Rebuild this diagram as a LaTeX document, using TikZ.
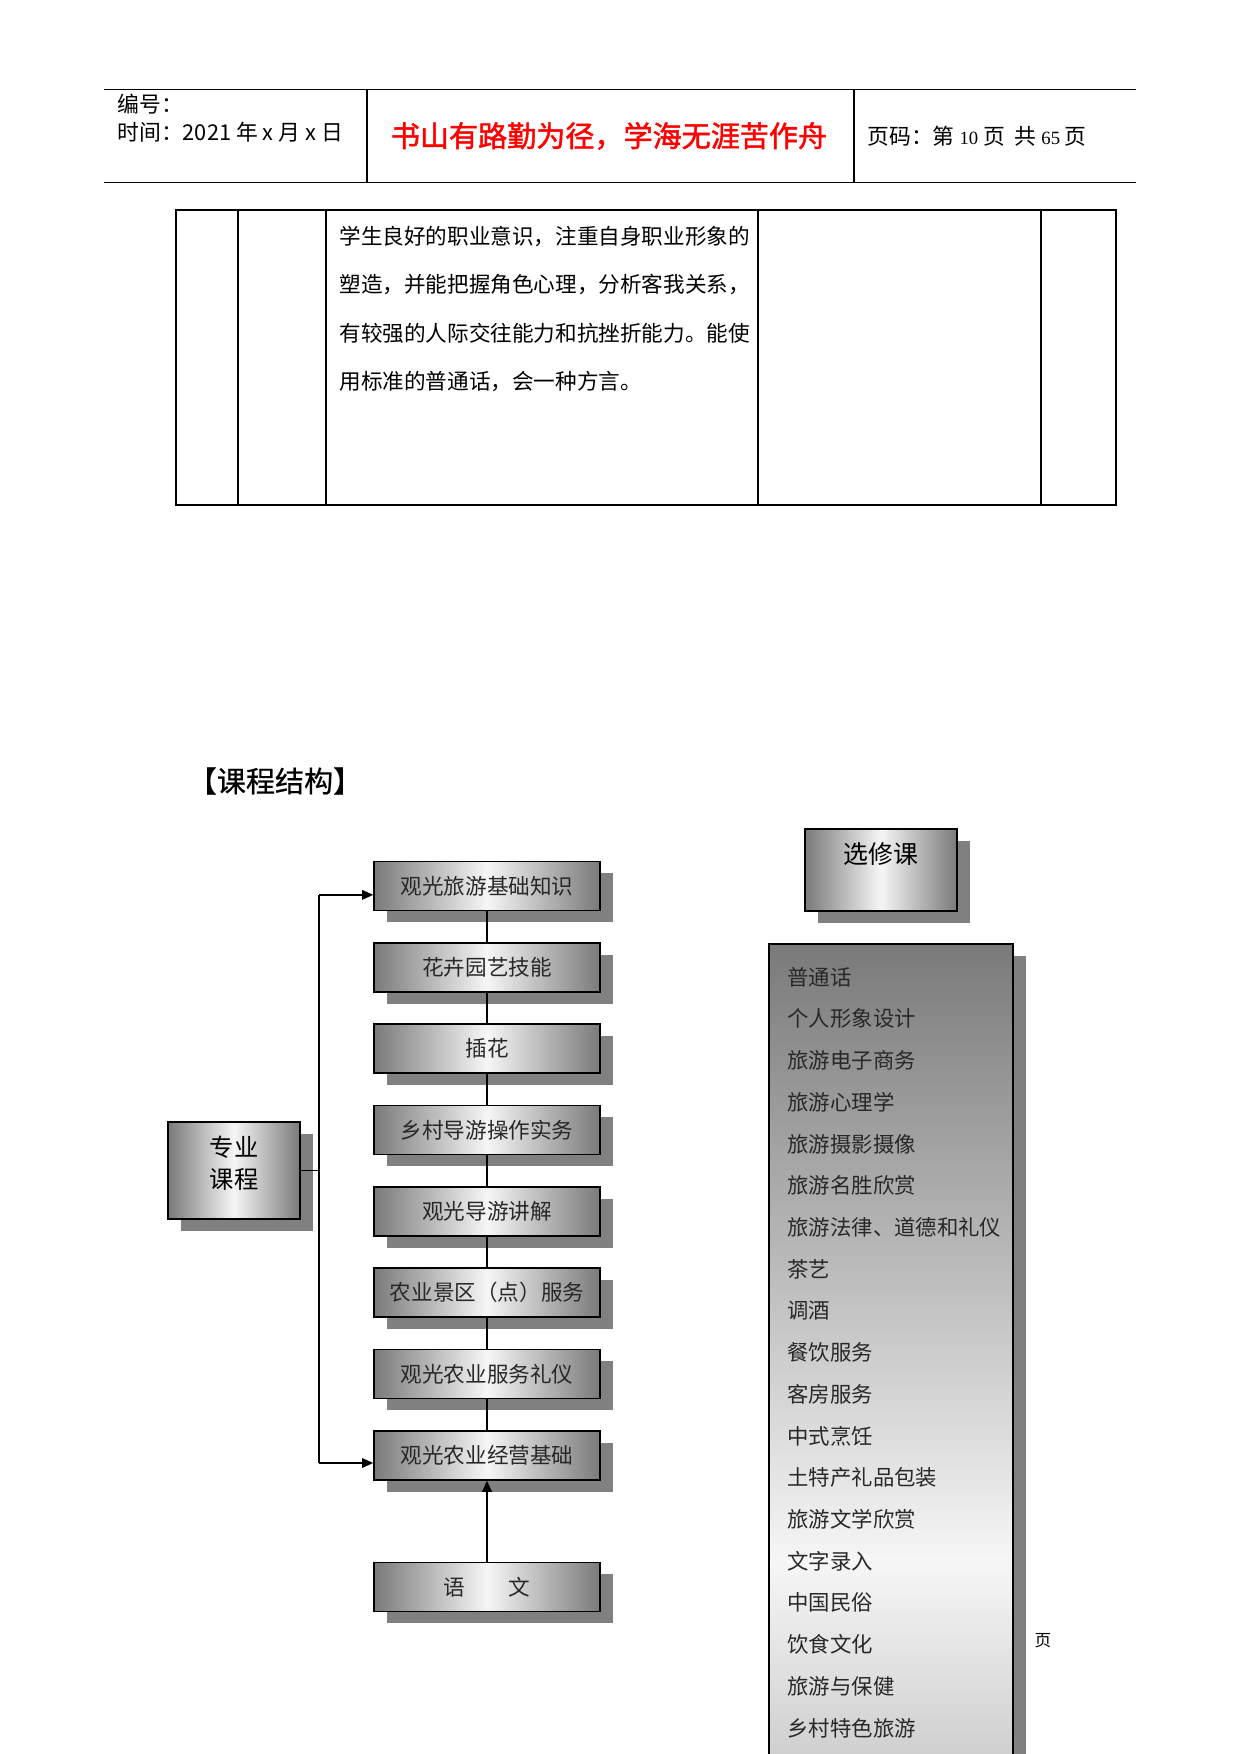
\documentclass[tikz,border=0pt]{standalone}
\usepackage{fontspec}
\setmainfont{Noto Sans CJK SC}
\newfontfamily\numfont{Liberation Serif}
\newfontfamily\heavycjk[FakeBold=1.6]{Noto Sans CJK SC}
\newfontfamily\semicjk[FakeBold=0.6]{Noto Sans CJK SC}
\usetikzlibrary{arrows.meta,positioning,shadows}

\begin{document}
\begin{tikzpicture}[
  x=0.1692mm, y=-0.1692mm,
  >={Triangle[length=1.9mm, width=1.6mm]},
  hdr/.style={anchor=west, inner sep=0pt, font=\fontsize{10.5}{12}\selectfont},
  shadowed/.style={drop shadow={shadow xshift=2.2mm, shadow yshift=-2.0mm, fill=cshadow, opacity=1}},
  course/.style={draw, line width=0.8pt, minimum width=38.2mm, minimum height=8.3mm, inner sep=0pt,
    left color=cgray, right color=cgray, middle color=cwhite, text=ctext,
    font=\fontsize{10.4}{12}\selectfont, shadowed},
  core/.style={draw, line width=0.8pt, minimum width=22.3mm, minimum height=16.4mm, inner sep=0pt, align=center,
    left color=cgray, right color=cgray, middle color=cwhite,
    font=\fontsize{11.7}{15}\selectfont, shadowed},
  item/.style={anchor=west, inner sep=0pt, text=ctext, font=\fontsize{10.3}{12}\selectfont},
  node distance=5.18mm
]

\definecolor{cgray}{RGB}{122,122,122}
\definecolor{cwhite}{RGB}{246,246,246}
\definecolor{cshadow}{RGB}{128,128,128}
\definecolor{ctext}{RGB}{40,40,40}
\definecolor{cred}{RGB}{255,0,0}

\useasboundingbox (0,0) rectangle (1241,1754);
\clip (0,0) rectangle (1241,1754);

% header
\draw[line width=0.5pt] (104,89.5) -- (1136,89.5);
\draw[line width=0.5pt] (104,182.4) -- (1136,182.4);
\draw[line width=1pt] (367,89.5) -- (367,182.4);
\draw[line width=0.5pt] (854,89.5) -- (854,182.4);

\node[hdr] (bh) at (117,104) {编号：};
\node[hdr] (sj) at (117,132) {时间：2021 年 x 月 x 日};
\node[inner sep=0pt, text=cred, font=\fontsize{14}{16}\selectfont\heavycjk] (motto) at (609,136) {书山有路勤为径，学海无涯苦作舟};
\node[hdr] (ym) at (867,136) {页码：第 {\numfont\fontsize{9}{10}\selectfont 10} 页\ \ 共 {\numfont\fontsize{9}{10}\selectfont 65} 页};

% table
\draw[line width=0.6pt] (176,210) rectangle (1116,505);
\foreach \x in {238,326,758,1041}
  \draw[line width=0.6pt] (\x,210) -- (\x,505);
\node[anchor=west, inner sep=0pt, align=left, font=\fontsize{10.4}{23.4}\selectfont] (goal) at (339,309)
  {学生良好的职业意识，注重自身职业形象的\\塑造，并能把握角色心理，分析客我关系，\\有较强的人际交往能力和抗挫折能力。能使\\用标准的普通话，会一种方言。};

\node[inner sep=0pt, font=\fontsize{14}{16}\selectfont\semicjk] (title) at (275,781) {【课程结构】};

% core courses
\node[course] (k1) at (487,886) {观光旅游基础知识};
\node[course, below=of k1] (k2) {花卉园艺技能};
\node[course, below=of k2] (k3) {插花};
\node[course, below=of k3] (k4) {乡村导游操作实务};
\node[course, below=of k4] (k5) {观光导游讲解};
\node[course, below=of k5] (k6) {农业景区（点）服务};
\node[course, below=of k6] (k7) {观光农业服务礼仪};
\node[course, below=of k7] (k8) {观光农业经营基础};
\node[course, below=13.7mm of k8] (yw) {语\hspace{2em}文};

\node[core] (zy) at (234,1170.5) {专业\\课程\\[-7pt]~};

\foreach \a/\b in {k1/k2,k2/k3,k3/k4,k4/k5,k5/k6,k6/k7,k7/k8}
  \draw[line width=0.5pt] (\a) -- (\b);

\coordinate (sp) at (319,1170.5);
\draw[line width=0.7pt] (zy.east) -- (sp);
\draw[line width=0.7pt] ([yshift=-1.5mm]k1.west -| sp) -- ([yshift=-1.3mm]k8.west -| sp);
\draw[->, line width=1pt] ([yshift=-1.5mm]k1.west -| sp) -- ([yshift=-1.5mm]k1.west);
\draw[->, line width=1pt] ([yshift=-1.3mm]k8.west -| sp) -- ([yshift=-1.3mm]k8.west);
\draw[->, line width=1.1pt] (yw) -- (k8);

% electives
\node[core, minimum width=25.7mm, minimum height=13.9mm, font=\fontsize{12}{16}\selectfont] (xx) at (881,870) {选修课\\~};

\node[draw, line width=0.8pt, anchor=north west, minimum width=41.3mm, minimum height=209mm, inner sep=0pt,
  top color=cgray, bottom color=cgray, middle color=cwhite, shadowed] (opt) at (768,943) {};

\foreach \t [count=\i] in {普通话,个人形象设计,旅游电子商务,旅游心理学,旅游摄影摄像,旅游名胜欣赏,
  旅游法律、道德和礼仪,茶艺,调酒,餐饮服务,客房服务,中式烹饪,土特产礼品包装,旅游文学欣赏,
  文字录入,中国民俗,饮食文化,旅游与保健,乡村特色旅游}
  \node[item] (o\i) at (787,{977+41.72*(\i-1)}) {\t};

\node[inner sep=0pt, font=\fontsize{8}{9}\selectfont] (pg) at (1043,1641) {页};

\end{tikzpicture}
\end{document}
